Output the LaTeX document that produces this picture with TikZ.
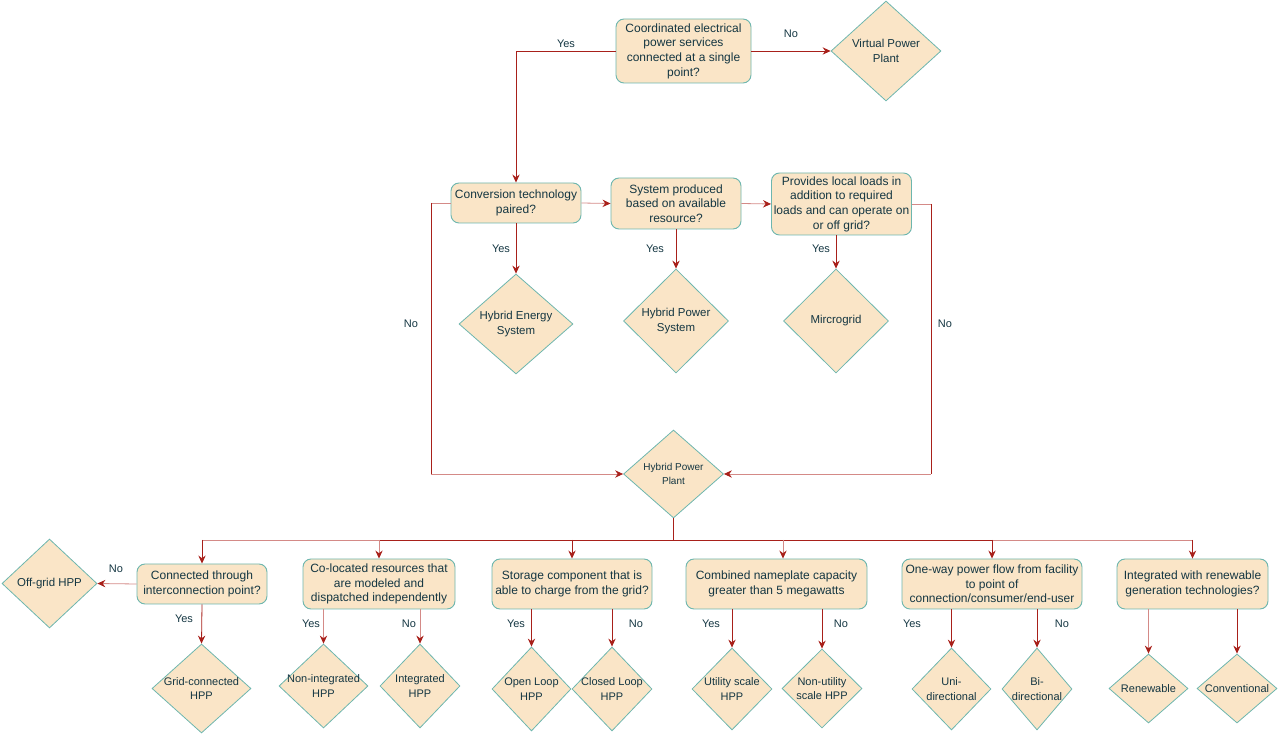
\documentclass[tikz,border=0pt]{standalone}
\usepackage{fontspec}
\setmainfont{Liberation Sans}
\usetikzlibrary{shapes.geometric,arrows.meta}

\definecolor{boxfill}{HTML}{FAE5C7}
\definecolor{boxline}{HTML}{6DB6AE}
\definecolor{txtc}{HTML}{143642}
\definecolor{edgec}{HTML}{A8201A}
\definecolor{edgelight}{HTML}{D48A87}

\tikzset{
    qbox/.style={rectangle, rounded corners=6pt, draw=boxline, fill=boxfill, line width=0.7pt,
        text=txtc, font=\fontsize{9}{11}\selectfont, align=center, inner sep=0pt},
    endbox/.style={diamond, draw=boxline, fill=boxfill, line width=0.6pt, inner sep=0pt},
    dtext/.style={text=txtc, font=\fontsize{8.25}{11}\selectfont, align=center},
    dbig/.style={dtext, font=\fontsize{8.6}{11}\selectfont},
    link/.style={draw=edgec, line width=0.6pt},
    linkl/.style={draw=edgelight, line width=0.6pt},
    arr/.style={-{Stealth[length=6pt,width=5.5pt,inset=2pt,color=edgec]}},
    ans/.style={text=txtc, font=\fontsize{8.25}{10}\selectfont}
}

\begin{document}
\begin{tikzpicture}[x=0.75pt,y=-0.75pt]
    \useasboundingbox (0,0) rectangle (1279,737);

    % upper part
    \node (q0) at (683.5,51)[qbox,minimum width=101.25pt,minimum height=48pt]{Coordinated electrical\\power services\\connected at a single\\point?};
    \node (vpp) at (886,51)[endbox,minimum width=82.5pt,minimum height=75pt,label={[dbig]center:{Virtual Power\\Plant}}]{};
    \node (q1) at (516,203)[qbox,minimum width=97.5pt,minimum height=30pt]{Conversion technology\\paired?};
    \node (q2) at (676,203.5)[qbox,minimum width=97.5pt,minimum height=38.25pt]{System produced\\based on available\\resource?};
    \node (q3) at (841.5,204)[qbox,minimum width=105pt,minimum height=46.5pt]{Provides local loads in\\addition to required\\loads and can operate on\\or off grid?};
    \node (hes) at (516,324)[endbox,minimum width=85.5pt,minimum height=75pt,label={[dbig]center:{Hybrid Energy\\System}}]{};
    \node (hps) at (676,321)[endbox,minimum width=78.75pt,minimum height=78pt,label={[dbig]center:{Hybrid Power\\System}}]{};
    \node (mg) at (836,321)[endbox,minimum width=78.75pt,minimum height=78pt,label={[dbig]center:Mircrogrid}]{};
    \node (hpp) at (673.5,474)[endbox,minimum width=75pt,minimum height=66pt,label={[dtext,font=\fontsize{7.5}{11}\selectfont]center:{Hybrid Power\\Plant}}]{};

    \draw[link,arr] (q0.west) -| (q1.north);
    \draw[link,arr] (q0.east) -- (vpp.west);
    \draw[linkl,arr] (q1.east) -- (q2.west);
    \draw[linkl,arr] (q2.east) -- (q3.west);
    \draw[link,arr] (q1.south) -- (hes.north);
    \draw[link,arr] (q2.south) -- (hps.north);
    \draw[link,arr] (q3.south -| mg.north) -- (mg.north);

    \coordinate (lft) at (431,203);
    \coordinate (rgt) at (931,204);
    \draw[linkl] (q1.west) -- (lft);
    \draw[link] (lft) -- (lft |- hpp.west);
    \draw[linkl,arr] (lft |- hpp.west) -- (hpp.west);
    \draw[linkl] (q3.east) -- (rgt);
    \draw[link] (rgt) -- (rgt |- hpp.east);
    \draw[linkl,arr] (rgt |- hpp.east) -- (hpp.east);

    \node (a1) at (566,44)[ans]{Yes};
    \node (a2) at (791,34)[ans]{No};
    \node (a3) at (501,249)[ans]{Yes};
    \node (a4) at (655,249)[ans]{Yes};
    \node (a5) at (821,249)[ans]{Yes};
    \node (a6) at (411,324)[ans]{No};
    \node (a7) at (945,324)[ans]{No};

    % lower part
    \node (b1) at (202,584)[qbox,minimum width=97.5pt,minimum height=30pt]{Connected through\\interconnection point?};
    \node (b2) at (379,584)[qbox,minimum width=114pt,minimum height=37.5pt]{Co-located resources that\\are modeled and\\dispatched independently};
    \node (b3) at (572,584)[qbox,minimum width=120pt,minimum height=37.5pt]{Storage component that is\\able to charge from the grid?};
    \node (b4) at (776.5,584)[qbox,minimum width=135.75pt,minimum height=37.5pt]{Combined nameplate capacity\\greater than 5 megawatts};
    \node (b5) at (992,584)[qbox,minimum width=135pt,minimum height=37.5pt]{One-way power flow from facility\\to point of\\connection/consumer/end-user};
    \node (b6) at (1192.5,584)[qbox,minimum width=113.25pt,minimum height=37.5pt]{Integrated with renewable\\generation technologies?};

    \node (offg) at (49.5,583.5)[endbox,minimum width=71.25pt,minimum height=66.75pt,label={[dbig]center:Off-grid HPP}]{};
    \node (gc) at (201.5,688.5)[endbox,minimum width=74.25pt,minimum height=66.75pt,label={[dtext]center:{Grid-connected\\HPP}}]{};
    \node (nih) at (323.5,686)[endbox,minimum width=66.75pt,minimum height=63pt,label={[dtext]center:{Non-integrated\\HPP}}]{};
    \node (ih) at (420,686)[endbox,minimum width=60pt,minimum height=63pt,label={[dtext]center:{Integrated\\HPP}}]{};
    \node (olh) at (531.5,689)[endbox,minimum width=59.25pt,minimum height=63pt,label={[dtext]center:{Open Loop\\HPP}}]{};
    \node (clh) at (612,689)[endbox,minimum width=60pt,minimum height=63pt,label={[dtext]center:{Closed Loop\\HPP}}]{};
    \node (ush) at (732,689)[endbox,minimum width=60pt,minimum height=61.5pt,label={[dtext]center:{Utility scale\\HPP}}]{};
    \node (nush) at (822,688.5)[endbox,minimum width=60pt,minimum height=59.25pt,label={[dtext]center:{Non-utility\\scale HPP}}]{};
    \node (uni) at (951.5,689)[endbox,minimum width=59.25pt,minimum height=61.5pt,label={[dtext]center:{Uni-\\directional}}]{};
    \node (bi) at (1037,689)[endbox,minimum width=52.5pt,minimum height=61.5pt,label={[dtext]center:{Bi-\\directional}}]{};
    \node (ren) at (1148.5,688.5)[endbox,minimum width=59.25pt,minimum height=51.75pt,label={[dtext]center:Renewable}]{};
    \node (conv) at (1237,688.5)[endbox,minimum width=60pt,minimum height=51.75pt,label={[dtext]center:Conventional}]{};

    \coordinate (bus) at (673.5,540);
    \coordinate (tap) at (783,540);
    \draw[link,line width=1.4pt] (hpp.south) -- (bus);
    \draw[linkl] (b1.north |- bus) -- (b2.north |- bus);
    \draw[link] (b2.north |- bus) -- (b5.north |- bus);
    \draw[linkl] (b5.north |- bus) -- (b6.north |- bus);
    \foreach \b in {b1,b3,b5,b6}
    {
        \draw[link,arr] (\b.north |- bus) -- (\b.north);
    }
    \draw[linkl,arr] (b2.north |- bus) -- (b2.north);
    \draw[linkl,arr] (tap) -- (tap |- b4.north);

    \draw[linkl,arr] (b1.west) -- (offg.east);
    \draw[link,arr] (b1.south) -- (gc.north);
    \draw[linkl,arr] (b2.south -| nih.north) -- (nih.north);
    \draw[linkl,arr] (b2.south -| ih.north) -- (ih.north);
    \draw[link,arr] (b3.south -| olh.north) -- (olh.north);
    \draw[link,arr] (b3.south -| clh.north) -- (clh.north);
    \draw[link,arr] (b4.south -| ush.north) -- (ush.north);
    \draw[link,arr] (b4.south -| nush.north) -- (nush.north);
    \draw[link,arr] (b5.south -| uni.north) -- (uni.north);
    \draw[link,arr] (b5.south -| bi.north) -- (bi.north);
    \draw[linkl,arr] (b6.south -| ren.north) -- (ren.north);
    \draw[link,arr] (b6.south -| conv.north) -- (conv.north);

    \node (c1) at (116,569)[ans]{No};
    \node (c2) at (184,619)[ans]{Yes};
    \node (c3) at (311,624)[ans]{Yes};
    \node (c4) at (409,624)[ans]{No};
    \node (c5) at (516,624)[ans]{Yes};
    \node (c6) at (636,624)[ans]{No};
    \node (c7) at (711,624)[ans]{Yes};
    \node (c8) at (841,624)[ans]{No};
    \node (c9) at (912,624)[ans]{Yes};
    \node (c10) at (1062,624)[ans]{No};
\end{tikzpicture}
\end{document}
